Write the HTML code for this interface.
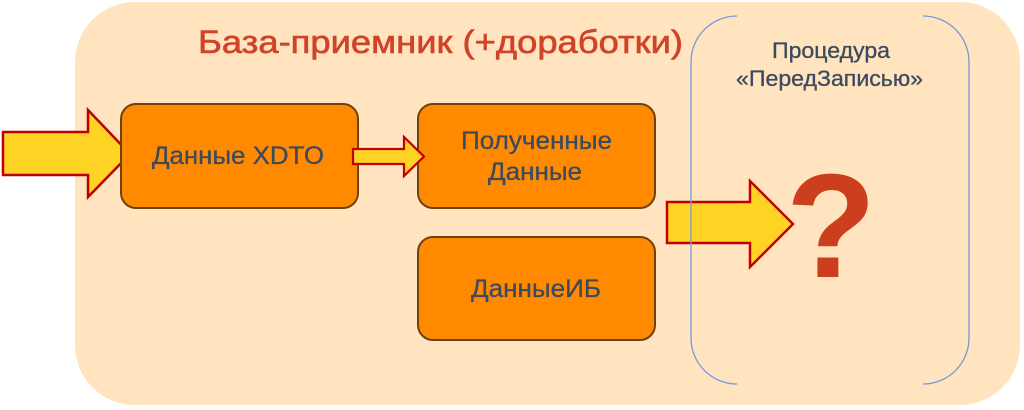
<!DOCTYPE html>
<html><head><meta charset="utf-8"><style>
html,body{margin:0;padding:0;background:#fff;}
svg{display:block;}
</style></head><body>
<svg width="1024" height="410" viewBox="0 0 1024 410" xmlns="http://www.w3.org/2000/svg">
<rect x="0" y="0" width="1024" height="410" fill="#ffffff"/>
<rect x="75" y="2" width="945" height="403" rx="60" ry="60" fill="#FFE4BF"/>
<text x="198" y="53" font-family="Liberation Sans, sans-serif" font-size="32" fill="#CF4327" stroke="#CF4327" stroke-width="0.6" textLength="485" lengthAdjust="spacingAndGlyphs">База-приемник (+доработки)</text>
<polygon points="3,132 88,132 88,110 130,154 88,197 88,175 3,175" fill="#FFD324" stroke="#C00000" stroke-width="2.5" stroke-linejoin="miter"/>
<rect x="121" y="104" width="237" height="104" rx="15" ry="15" fill="#FF8A00" stroke="#6E4210" stroke-width="2"/>
<rect x="418" y="104" width="237" height="104" rx="15" ry="15" fill="#FF8A00" stroke="#6E4210" stroke-width="2"/>
<rect x="418" y="237" width="237" height="103" rx="15" ry="15" fill="#FF8A00" stroke="#6E4210" stroke-width="2"/>
<polygon points="353,149 404,149 404,137 424,156.5 404,176 404,164 353,164" fill="#FFD324" stroke="#C00000" stroke-width="2.2"/>
<polygon points="667,202 750,202 750,181 793,224 750,267 750,243 667,243" fill="#FFD324" stroke="#C00000" stroke-width="2.5"/>
<g font-family="Liberation Sans, sans-serif" fill="#3B4A5E" stroke="#3B4A5E" stroke-width="0.3">
<text x="152" y="164" font-size="25" textLength="172" lengthAdjust="spacingAndGlyphs">Данные XDTO</text>
<text x="461" y="149" font-size="25" textLength="151" lengthAdjust="spacingAndGlyphs">Полученные</text>
<text x="488" y="180" font-size="25" textLength="94" lengthAdjust="spacingAndGlyphs">Данные</text>
<text x="471" y="297" font-size="25" textLength="130" lengthAdjust="spacingAndGlyphs">ДанныеИБ</text>
<text x="772" y="58" font-size="22" textLength="118" lengthAdjust="spacingAndGlyphs">Процедура</text>
<text x="736" y="86" font-size="22" textLength="187" lengthAdjust="spacingAndGlyphs">«ПередЗаписью»</text>
</g>
<path d="M737,16 A46,46 0 0 0 691,62 V338 A46,46 0 0 0 737,384" fill="none" stroke="#6F9BE0" stroke-width="1.3"/>
<path d="M923,16 A46,46 0 0 1 969,62 V338 A46,46 0 0 1 923,384" fill="none" stroke="#6F9BE0" stroke-width="1.3"/>
<text x="831" y="277" font-family="Liberation Sans, sans-serif" font-weight="bold" font-size="148" fill="#CC3F1E" text-anchor="middle">?</text>
</svg>
</body></html>
